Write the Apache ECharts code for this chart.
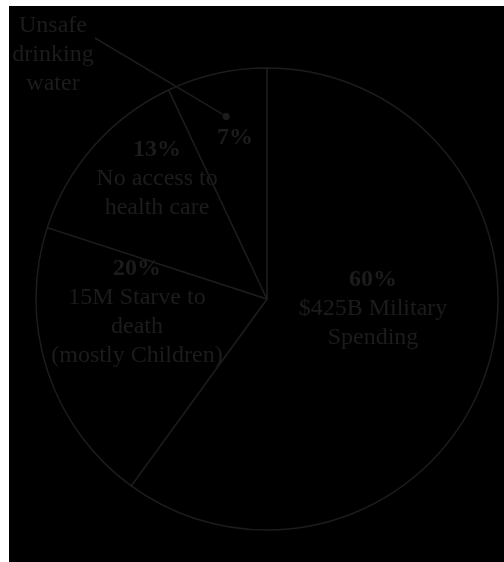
<!DOCTYPE html>
<html>
<head>
<meta charset="utf-8">
<script src="https://cdn.jsdelivr.net/npm/echarts@6/dist/echarts.min.js"></script>
<style>
  html, body { margin: 0; padding: 0; background: #fff; }
  #chart { position: absolute; left: 9px; top: 6px; width: 495px; height: 556px; }
</style>
</head>
<body>
<div id="chart"></div>
<script>
// slices, clockwise from 12 o'clock
const names = ['$425B Military\nSpending', '15M Starve to\ndeath\n(mostly Children)', 'No access to\nhealth care', 'Unsafe\ndrinking\nwater']
const values = [60, 20, 13, 7]
const percents = ['60%', '20%', '13%', '7%']

const ink = '#1c1c1c'
const center = [258, 293]
const radius = 231
const dotRatio = 0.81

// label block centres (container px)
const labelPos = [[364, 303], [128, 306], [148, 173], [226, 132]]
const outsidePos = [44, 49]
const leaderEnd = [86, 32]

const chart = echarts.init(document.getElementById('chart'))

const textStyle = { fontFamily: 'Liberation Serif', fontSize: 24, color: ink, lineHeight: 29 }

const option = {
  backgroundColor: '#000',
  animation: false,
  series: [
    {
      type: 'pie',
      center: center,
      radius: radius,
      startAngle: 90,
      clockwise: true,
      silent: true,
      itemStyle: { color: '#000', borderColor: ink, borderWidth: 1.5 },
      label: {
        position: 'inside',
        formatter: p => {
          const lines = ['{b|' + percents[p.dataIndex] + '}']
          if (p.dataIndex < 3) p.name.split('\n').forEach(s => lines.push('{n|' + s + '}'))
          return lines.join('\n')
        },
        rich: {
          b: Object.assign({}, textStyle, { fontWeight: 'bold' }),
          n: Object.assign({}, textStyle)
        }
      },
      labelLine: { show: false },
      labelLayout: p => ({
        x: labelPos[p.dataIndex][0],
        y: labelPos[p.dataIndex][1],
        align: 'center',
        verticalAlign: 'middle'
      }),
      data: values.map((v, i) => ({ value: v, name: names[i] }))
    },
    {
      // carries the outside caption of the smallest slice
      type: 'pie',
      center: center,
      radius: radius * dotRatio,
      startAngle: 90,
      clockwise: true,
      silent: true,
      itemStyle: { color: 'rgba(0,0,0,0)', borderWidth: 0 },
      labelLine: { show: false },
      labelLayout: p => p.dataIndex === 3 ? {
        x: outsidePos[0],
        y: outsidePos[1],
        align: 'center',
        verticalAlign: 'middle'
      } : {},
      data: values.map((v, i) => ({
        value: v,
        name: names[i],
        label: i === 3 ? { show: true, position: 'outside', formatter: '{b}', ...textStyle } : { show: false }
      }))
    }
  ]
}

// leader with a dot at the mid-angle of the last slice
const total = values.reduce((a, b) => a + b, 0)
const before = values.slice(0, 3).reduce((a, b) => a + b, 0)
const mid = (before + values[3] / 2) / total * 2 * Math.PI
const dot = [center[0] + Math.sin(mid) * radius * dotRatio, center[1] - Math.cos(mid) * radius * dotRatio]
option.graphic = [
  {
    type: 'polyline',
    z: 100,
    shape: { points: [dot, leaderEnd] },
    style: { stroke: ink, lineWidth: 1.5, fill: null },
    silent: true
  },
  {
    type: 'circle',
    z: 100,
    shape: { cx: dot[0], cy: dot[1], r: 3.5 },
    style: { fill: ink },
    silent: true
  }
]

chart.setOption(option)
</script>
</body>
</html>
